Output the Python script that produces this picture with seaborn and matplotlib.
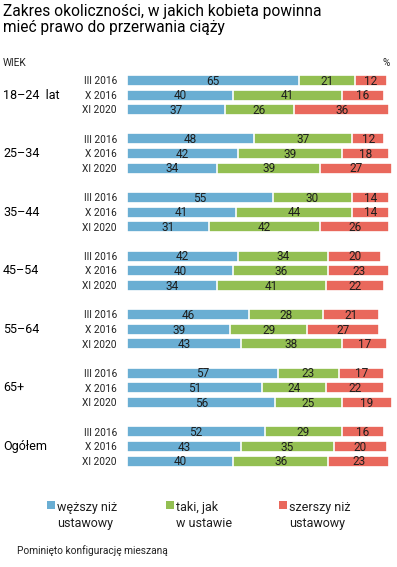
import pandas as pd
import matplotlib.pyplot as plt
import seaborn as sns
from matplotlib.patches import Rectangle

# data
groups = ['18–24  lat', '25–34', '35–44', '45–54', '55–64', '65+', 'Ogółem']
waves = ['III 2016', 'X 2016', 'XI 2020']
narrower = [65, 40, 37, 48, 42, 34, 55, 41, 31, 42, 40, 34, 46, 39, 43, 57, 51, 56, 52, 43, 40]
same = [21, 41, 26, 37, 39, 39, 30, 44, 42, 34, 36, 41, 28, 29, 38, 23, 24, 25, 29, 35, 36]
wider = [12, 16, 36, 12, 18, 27, 14, 14, 26, 20, 23, 22, 21, 27, 17, 17, 22, 19, 16, 20, 23]
legend_labels = ['węższy niż\nustawowy', 'taki, jak\nw ustawie', 'szerszy niż\nustawowy']

colors = ['#6aaed3', '#93bf52', '#e9685c']

rows = []
for gi, g in enumerate(groups):
    for wi, w in enumerate(waves):
        k = gi * 3 + wi
        rows.append({'group': g, 'wave': w, 'pos': gi * 4 + wi,
                     'narrower': narrower[k], 'same': same[k], 'wider': wider[k]})
df = pd.DataFrame(rows)
df['cum2'] = df['narrower'] + df['same']
df['cum3'] = df['cum2'] + df['wider']

sns.set_theme(style='white')
plt.rcParams['font.family'] = ['Roboto', 'DejaVu Sans']

W, H = 397, 567
fig = plt.figure(figsize=(W / 100, H / 100), dpi=100)
ax = fig.add_axes([127 / W, 1 - 468.4 / H, 265 / W, 395.3 / H])

# stacked bars by overlaying cumulative totals
for col, c in zip(['cum3', 'cum2', 'narrower'], colors[::-1]):
    sns.barplot(data=df, x=col, y='pos', orient='y', native_scale=True,
                color=c, saturation=1, width=0.75, errorbar=None,
                edgecolor='white', linewidth=1.2, ax=ax)

ax.set_xlim(0, 100)
ax.set_ylim(26.5, -0.5)
ax.axis('off')

for _, r in df.iterrows():
    left = 0
    for col in ['narrower', 'same', 'wider']:
        v = r[col]
        ax.text(left + v / 2, r['pos'] + 0.05, str(v), ha='center', va='center',
                fontsize=8.5, color='#1e1e1e')
        left += v
    ax.text(-3.8, r['pos'] + 0.05, r['wave'], ha='right', va='center',
            fontsize=7.3, color='#222222')

for gi, g in enumerate(groups):
    ax.text(-46.8, gi * 4 + 1, g, ha='left', va='center', fontsize=9,
            color='#000000', clip_on=False)

# titles and notes
fig.text(3 / W, 1 - 4 / H, 'Zakres okoliczności, w jakich kobieta powinna\nmieć prawo do przerwania ciąży',
         ha='left', va='top', fontsize=11.2, linespacing=1.12, color='#000000')
fig.text(3 / W, 1 - 65.5 / H, 'WIEK', ha='left', va='baseline', fontsize=7.3, color='#222222')
fig.text(390 / W, 1 - 65.5 / H, '%', ha='right', va='baseline', fontsize=7.3, color='#222222')

# legend
sq_x = [47, 166, 279]
for x0, c, lab in zip(sq_x, colors, legend_labels):
    fig.add_artist(Rectangle((x0 / W, 1 - 509 / H), 8 / W, 8 / H,
                             transform=fig.transFigure, color=c, lw=0))
    fig.text((x0 + 10) / W, 1 - 501 / H, lab, ha='left', va='top', fontsize=9,
             linespacing=1.3, color='#1e1e1e')

fig.text(17 / W, 1 - 554 / H, 'Pominięto konfigurację mieszaną', ha='left', va='baseline',
         fontsize=7.3, color='#222222')

fig.savefig('out.png', dpi=100)
